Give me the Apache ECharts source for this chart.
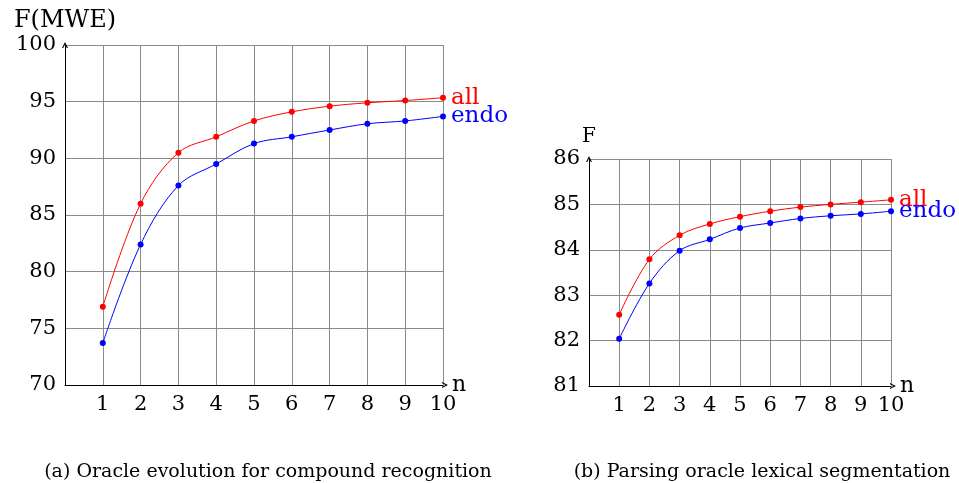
<!DOCTYPE html>
<html>
<head>
<meta charset="utf-8">
<script src="https://cdn.jsdelivr.net/npm/echarts@6/dist/echarts.min.js"></script>
<style>
  html, body { margin: 0; padding: 0; background: #fff; }
  #chart { width: 959px; height: 483px; }
</style>
</head>
<body>
<div id="chart"></div>
<script>
  // 数据
  const nValues = [1, 2, 3, 4, 5, 6, 7, 8, 9, 10];
  // (a) compound recognition
  const allMwe = [76.9, 86.0, 90.5, 91.9, 93.3, 94.1, 94.6, 94.9, 95.1, 95.35];
  const endoMwe = [73.7, 82.4, 87.6, 89.5, 91.3, 91.9, 92.5, 93.05, 93.3, 93.7];
  // (b) lexical segmentation
  const allSeg = [82.57, 83.79, 84.32, 84.57, 84.73, 84.85, 84.94, 85.0, 85.05, 85.1];
  const endoSeg = [82.04, 83.26, 83.98, 84.23, 84.48, 84.59, 84.69, 84.75, 84.79, 84.85];
  const captions = ['(a) Oracle evolution for compound recognition', '(b) Parsing oracle lexical segmentation'];

  const font = 'DejaVu Serif';
  // 开口箭头 (tikz "->")
  const chevron = 'path://M0,10 L5,0 L10,10 L8,10 L5,4 L2,10 Z';

  const pairs = (ys) => nValues.map((n, i) => [n, ys[i]]);

  const xAxisOf = (gridIndex) => ({
    type: 'value',
    gridIndex: gridIndex,
    min: 0,
    max: 10,
    interval: 1,
    name: 'n',
    nameLocation: 'end',
    nameGap: 9,
    nameMoveOverlap: false, // v6 会自动挪开和刻度文字重叠的名字
    nameTextStyle: { fontFamily: font, fontSize: 22, color: '#000', verticalAlign: 'middle', padding: [0, 0, 4, 0] },
    axisLine: {
      show: true,
      symbol: ['none', chevron],
      symbolSize: [9, 6],
      symbolOffset: [0, 2],
      lineStyle: { color: '#000', width: 1 }
    },
    axisTick: { show: false },
    axisLabel: {
      fontFamily: font, fontSize: 21, color: '#000', margin: 9,
      formatter: v => (v === 0 ? '' : v)
    },
    splitLine: { show: true, lineStyle: { color: '#8a8a8a', width: 1 } }
  });

  const yAxisOf = (gridIndex, min, max, interval, name, nameSize) => ({
    type: 'value',
    gridIndex: gridIndex,
    min: min,
    max: max,
    interval: interval,
    name: name,
    nameLocation: 'end',
    nameGap: 12,
    nameMoveOverlap: false,
    nameTextStyle: { fontFamily: font, fontSize: nameSize, color: '#000', align: 'center' },
    axisLine: {
      show: true,
      symbol: ['none', chevron],
      symbolSize: [9, 6],
      lineStyle: { color: '#000', width: 1 }
    },
    axisTick: { show: false },
    axisLabel: { fontFamily: font, fontSize: 21, color: '#000', margin: 9 },
    splitLine: { show: true, lineStyle: { color: '#8a8a8a', width: 1 } }
  });

  const seriesOf = (idx, label, color, ys) => ({
    type: 'line',
    xAxisIndex: idx,
    yAxisIndex: idx,
    data: pairs(ys),
    smooth: 0.35,
    symbol: 'circle',
    symbolSize: 6,
    lineStyle: { color: color, width: 1 },
    itemStyle: { color: color },
    endLabel: {
      show: true,
      formatter: label,
      color: color,
      fontFamily: font,
      fontSize: 23,
      distance: 8
    },
    silent: true,
    animation: false
  });

  const chart = echarts.init(document.getElementById('chart'));
  const option = {
    backgroundColor: '#fff',
    animation: false,
    title: [
      {
        text: captions[0], left: 263, top: 458, textAlign: 'center',
        textStyle: { fontFamily: font, fontSize: 19, fontWeight: 'normal', color: '#000' }
      },
      {
        text: captions[1], left: 757, top: 458, textAlign: 'center',
        textStyle: { fontFamily: font, fontSize: 19, fontWeight: 'normal', color: '#000' }
      }
    ],
    grid: [
      { left: 65, top: 45, width: 378, height: 340, containLabel: false },
      { left: 589, top: 159, width: 302, height: 227, containLabel: false }
    ],
    xAxis: [xAxisOf(0), xAxisOf(1)],
    yAxis: [
      yAxisOf(0, 70, 100, 5, 'F(MWE)', 24),
      yAxisOf(1, 81, 86, 1, 'F', 20)
    ],
    series: [
      seriesOf(0, 'all', '#ff0000', allMwe),
      seriesOf(0, 'endo', '#0000ff', endoMwe),
      seriesOf(1, 'all', '#ff0000', allSeg),
      seriesOf(1, 'endo', '#0000ff', endoSeg)
    ]
  };
  chart.setOption(option);
</script>
</body>
</html>
